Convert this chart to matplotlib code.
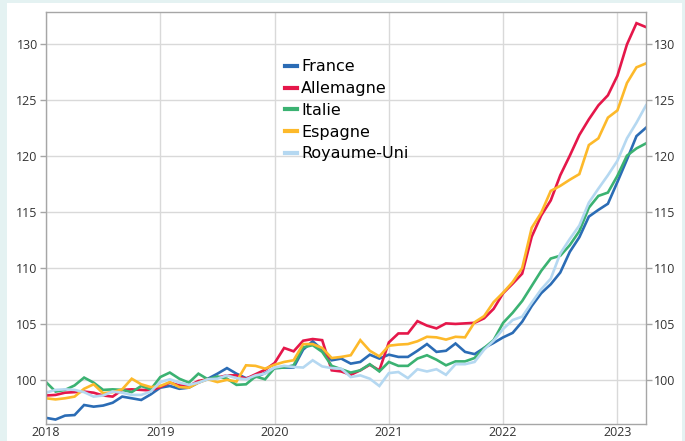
import matplotlib
matplotlib.use("Agg")
import matplotlib.pyplot as plt
import numpy as np

months = np.arange(64)  # Jan 2018 .. Apr 2023
years = [2018, 2019, 2020, 2021, 2022, 2023]

france = [96.6, 96.45, 96.8, 96.85, 97.75, 97.6, 97.7, 97.95, 98.5, 98.35, 98.2, 98.7,
          99.3, 99.45, 99.2, 99.3, 99.75, 100.1, 100.55, 101.05, 100.55, 100.15, 100.25, 100.6,
          101.05, 101.1, 101.1, 102.7, 103.45, 102.7, 101.75, 101.9, 101.45, 101.6, 102.25, 101.9,
          102.25, 102.05, 102.05, 102.6, 103.2, 102.5, 102.6, 103.25, 102.5, 102.3, 102.85, 103.3,
          103.8, 104.2, 105.2, 106.6, 107.75, 108.55, 109.6, 111.45, 112.75, 114.6, 115.2, 115.75,
          117.7, 119.7, 121.8, 122.55]
allemagne = [98.6, 98.65, 98.85, 98.9, 98.95, 98.85, 98.6, 98.5, 99.1, 99.15, 99.1, 99.05,
             99.35, 99.75, 99.5, 99.45, 99.9, 100.05, 100.2, 100.4, 100.4, 100.1, 100.5, 100.9,
             101.5, 102.85, 102.55, 103.5, 103.65, 103.55, 100.85, 100.75, 100.45, 100.85, 101.35, 100.85,
             103.35, 104.15, 104.15, 105.25, 104.85, 104.6, 105.05, 105.0, 105.05, 105.1, 105.5, 106.35,
             107.75, 108.6, 109.5, 112.8, 114.7, 116.05, 118.3, 120.05, 121.9, 123.3, 124.55, 125.45,
             127.2, 130.0, 131.9, 131.55]
italie = [99.8, 98.95, 99.1, 99.5, 100.2, 99.75, 99.1, 99.15, 99.1, 98.9, 99.45, 99.15,
          100.25, 100.65, 100.1, 99.75, 100.55, 100.05, 100.3, 100.1, 99.55, 99.6, 100.3, 100.05,
          101.05, 101.1, 101.3, 102.9, 103.1, 102.5, 101.25, 100.95, 100.65, 100.85, 101.4, 100.75,
          101.6, 101.25, 101.25, 101.9, 102.2, 101.8, 101.3, 101.65, 101.65, 101.95, 102.85, 103.55,
          105.1, 106.0, 107.05, 108.4, 109.75, 110.85, 111.1, 112.05, 113.3, 115.4, 116.45, 116.75,
          118.25, 120.05, 120.7, 121.15]
espagne = [98.35, 98.25, 98.35, 98.5, 99.2, 99.6, 98.8, 98.9, 99.15, 100.1, 99.6, 99.35,
           99.45, 99.8, 99.35, 99.3, 99.75, 100.05, 99.8, 100.0, 99.85, 101.3, 101.25, 101.0,
           101.35, 101.6, 101.75, 103.2, 103.2, 102.85, 101.95, 102.05, 102.2, 103.55, 102.6, 102.1,
           103.05, 103.15, 103.2, 103.45, 103.85, 103.8, 103.6, 103.85, 103.8, 105.15, 105.7, 106.95,
           107.8, 108.75, 110.0, 113.6, 114.95, 116.9, 117.35, 117.9, 118.4, 121.0, 121.6, 123.45,
           124.1, 126.55, 127.95, 128.3]
royaume_uni = [98.85, 99.1, 99.15, 99.1, 98.9, 98.5, 98.6, 98.95, 98.85, 98.65, 98.65, 98.95,
               99.8, 100.05, 99.75, 99.55, 99.75, 100.05, 100.1, 100.4, 100.15, 100.05, 100.4, 100.55,
               101.1, 101.25, 101.15, 101.1, 101.75, 101.2, 101.05, 101.0, 100.25, 100.4, 100.1, 99.45,
               100.6, 100.7, 100.15, 100.95, 100.75, 100.95, 100.45, 101.4, 101.4, 101.6, 102.7, 103.5,
               104.55, 105.35, 105.65, 106.9, 108.1, 109.05, 111.3, 112.6, 113.8, 115.85, 117.1, 118.3,
               119.6, 121.6, 123.0, 124.55]

series = [("France", france, "#2b6cb5"),
          ("Allemagne", allemagne, "#e5174a"),
          ("Italie", italie, "#3bb272"),
          ("Espagne", espagne, "#fdb92a"),
          ("Royaume-Uni", royaume_uni, "#b5d8f1")]

W, H = 685, 441
fig = plt.figure(figsize=(W / 100, H / 100), dpi=100)
fig.patch.set_facecolor("#e4f2f2")
bg = fig.add_axes([7 / W, 0, (682 - 7) / W, (441 - 3) / H], zorder=-10)
bg.set_facecolor("white")
bg.set_xticks([]); bg.set_yticks([])
for s in bg.spines.values():
    s.set_visible(False)

ax = fig.add_axes([46 / W, (H - 424) / H, (646 - 46) / W, (424 - 12) / H], zorder=1)
ax.set_facecolor("white")

x = 2018 + months / 12.0
for name, vals, col in series:
    ax.plot(x, vals, color=col, lw=1.9, label=name, solid_joinstyle="miter")

ax.set_xlim(2018, 2018 + 63 / 12.0)
ax.set_ylim(96.05, 132.9)
ax.set_xticks(years)
ax.set_xticklabels([str(y) for y in years])
ax.set_yticks([100, 105, 110, 115, 120, 125, 130])
ax.grid(True, color="#d9d9d9", lw=1.0)
ax.set_axisbelow(True)

for s in ax.spines.values():
    s.set_color("#a6a6a6")
    s.set_linewidth(1.0)

ax.tick_params(axis="both", colors="#a6a6a6", labelcolor="#333333", length=4, width=1.0)
ax.tick_params(axis="x", length=0, pad=1.5)
ax.tick_params(axis="y", which="both", left=True, right=True, labelleft=True, labelright=True,
               direction="out", pad=2)
for lab in ax.get_xticklabels() + ax.get_yticklabels():
    lab.set_fontfamily(["Open Sans", "DejaVu Sans"])
    lab.set_fontsize(9)
for t in ax.yaxis.get_major_ticks():
    t.label2.set_fontfamily(["Open Sans", "DejaVu Sans"])
    t.label2.set_fontsize(9)
    t.label2.set_color("#333333")

leg = ax.legend(loc="upper left", bbox_to_anchor=((279 - 46) / (646 - 46), 1 - (53 - 12) / (424 - 12)),
                frameon=False, handlelength=0.7, handletextpad=0.3, labelspacing=0.42,
                borderaxespad=0, prop={"family": ["Liberation Sans Narrow", "DejaVu Sans"], "size": 11.5})
for h in leg.get_lines():
    h.set_linewidth(3)

fig.savefig("out.png", dpi=100, facecolor=fig.get_facecolor())
